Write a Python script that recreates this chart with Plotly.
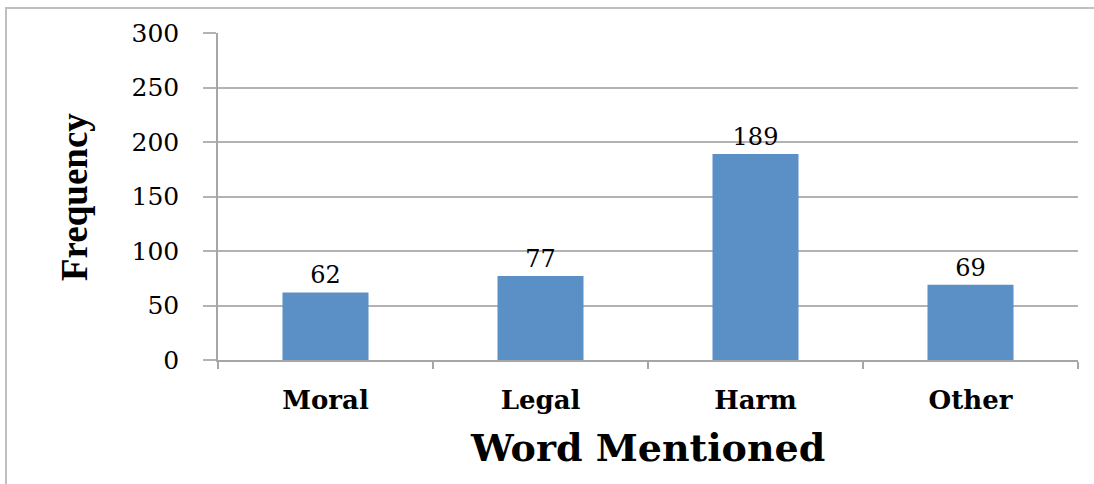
import plotly.graph_objects as go

categories = ["Moral", "Legal", "Harm", "Other"]
frequency = [62, 77, 189, 69]
y_ticks = [0, 50, 100, 150, 200, 250, 300]

W, H = 1094, 484
PL, PR, PT, PB = 218, 1078, 33, 360  # target plot area in pixels
L, T = PL, PT
R = W - PR
B = H - PB
pw, ph = PR - PL, PB - PT

def px(x):
    return (x - PL) / pw

def py(y):
    return (PB - y) / ph

fig = go.Figure(go.Bar(
    x=categories, y=frequency,
    marker=dict(color="#5B90C7", line=dict(width=0)),
    width=0.4,
    text=[str(v) for v in frequency],
    textposition="outside",
    textfont=dict(family="DejaVu Serif", size=24, color="#000000"),
    cliponaxis=False,
    hoverinfo="skip",
))

fig.update_layout(
    width=W, height=H,
    margin=dict(l=L, r=R, t=T, b=B),
    paper_bgcolor="white", plot_bgcolor="white",
    showlegend=False,
    xaxis=dict(
        showgrid=False, showline=True, linecolor="#a6a6a6", linewidth=1.5,
        ticks="outside", tickson="boundaries", ticklen=7, tickcolor="#a6a6a6", tickwidth=1.5,
        tickfont=dict(family="DejaVu Serif", size=26, color="#000000", weight="bold"),
        ticklabelstandoff=16,
    ),
    yaxis=dict(
        range=[0, 300], tickvals=y_ticks, showgrid=True, gridcolor="#b3b3b3", gridwidth=1.5,
        showline=True, linecolor="#a6a6a6", linewidth=1.5,
        ticks="outside", ticklen=13, tickcolor="#b3b3b3", tickwidth=1.5,
        tickfont=dict(family="DejaVu Serif", size=25, color="#000000"),
        ticklabelstandoff=19, zeroline=False,
    ),
    annotations=[
        dict(text="Frequency", xref="paper", yref="paper", x=px(75), y=py(197),
             textangle=-90, showarrow=False, xanchor="center", yanchor="middle",
             font=dict(family="Liberation Serif", size=37, color="#000000", weight="bold")),
        dict(text="Word Mentioned", xref="paper", yref="paper", x=px(647), y=py(448),
             showarrow=False, xanchor="center", yanchor="middle",
             font=dict(family="DejaVu Serif", size=38, color="#000000", weight="bold")),
    ],
    shapes=[
        dict(type="rect", xref="paper", yref="paper",
             x0=px(6), x1=px(1120), y0=py(520), y1=py(8),
             line=dict(color="#bfbfbf", width=2), fillcolor="rgba(0,0,0,0)", layer="below"),
    ],
)

fig.write_html(
    "out.html",
    config={"displayModeBar": False},
    post_script="document.body.style.margin='0';document.body.style.overflow='hidden';",
)
